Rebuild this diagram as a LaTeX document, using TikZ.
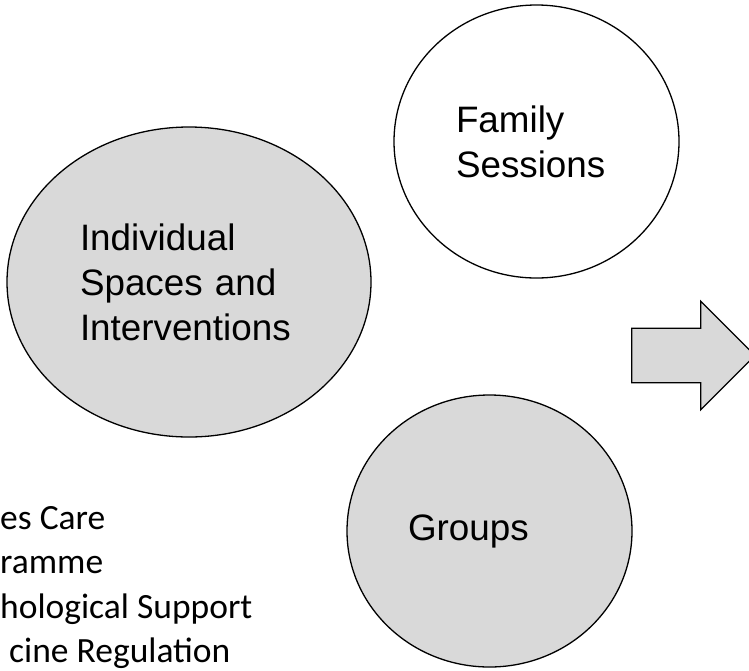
\documentclass[tikz,border=0pt]{standalone}
\usepackage{fontspec}
\setmainfont{Liberation Sans}
\newfontfamily\bodyfont{Carlito}
\usetikzlibrary{positioning, shapes.geometric}
\colorlet{mygray}{black!15}
\tikzset{
  blob/.style={ellipse, draw, line width=1.3pt, inner sep=0, align=left, font=\fontsize{36.8}{45}\selectfont},
  listitem/.style={anchor=base west, inner sep=0, font=\bodyfont\fontsize{35.5}{43}\selectfont},
}

\begin{document}
\begin{tikzpicture}[x=1pt, y=-1pt]
  \useasboundingbox (0,0) rectangle (749,670);
  \clip (0,0) rectangle (749,670);

  % the three spaces
  \node[blob, fill=mygray, minimum width=364pt, minimum height=310pt, text width=218pt] (indiv) at (189,282) {Individual\\Spaces and\\Interventions};
  \node[blob, fill=white, minimum width=285pt, minimum height=273pt, text width=161pt] (family) at (536.5,141.5) {Family\\Sessions};
  \node[blob, fill=mygray, minimum width=285pt, minimum height=272pt, text width=163pt] (groups) at (489.5,531) {Groups};

  % block arrow
  \draw[line width=1.3pt, fill=mygray, line join=miter] (631.7,328.3) -- (700.7,328.3) -- (700.7,301.2) -- (755,355.5) -- (700.7,409.8) -- (700.7,382.7) -- (631.7,382.7) -- cycle;

  % list on the left
  \node[listitem] (care) at (0,529) {es Care};
  \node[listitem] (prog) at (0,573) {ramme};
  \node[listitem] (psych) at (0,618) {hological Support};
  \node[listitem] (medic) at (9,662) {cine Regulation};
\end{tikzpicture}
\end{document}
